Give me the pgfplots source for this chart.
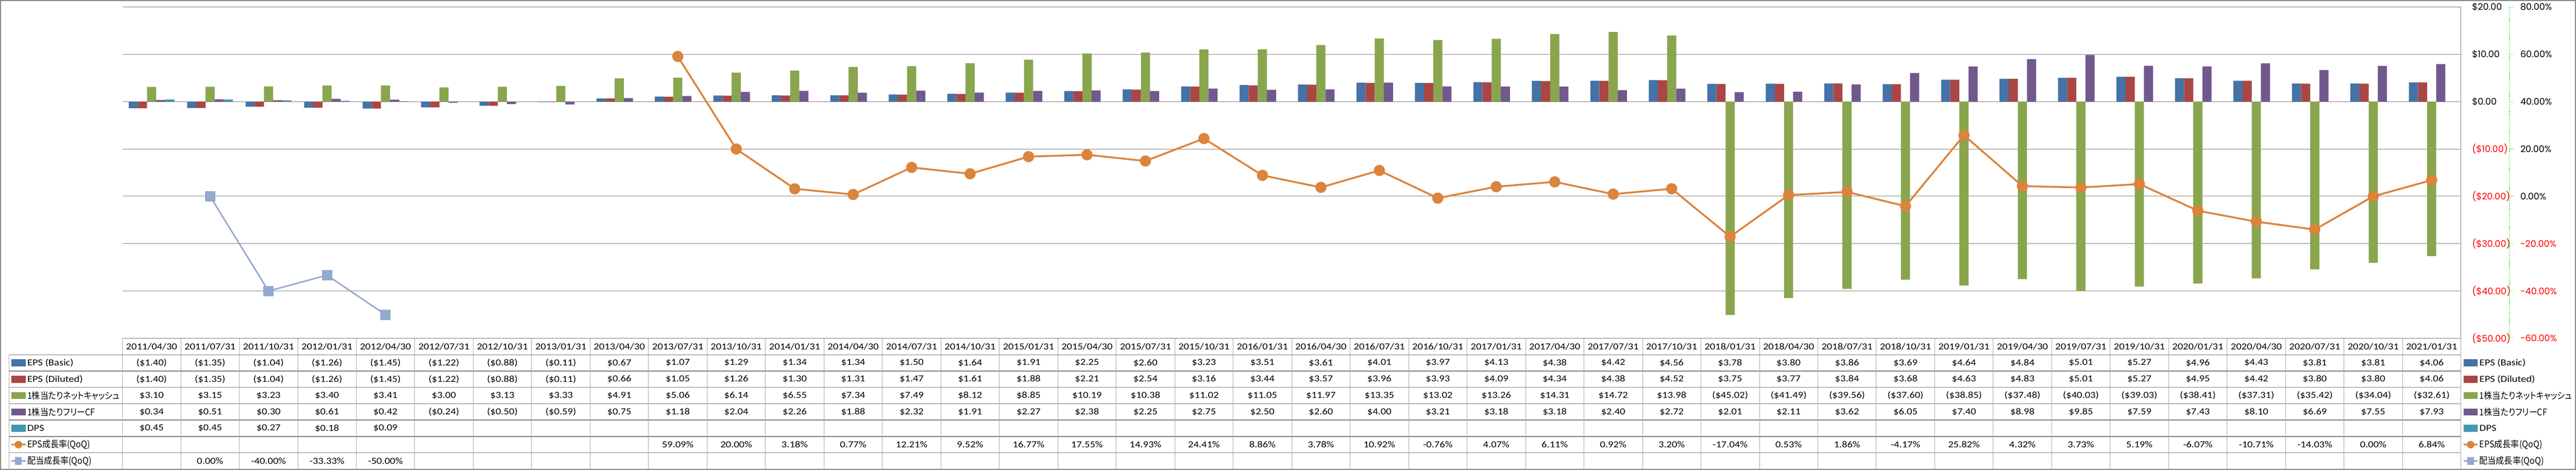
\documentclass[border=0pt]{standalone}
\usepackage{pgfplots}
\pgfplotsset{compat=1.18}
\usepackage{pgfplotstable}
\usepackage{fontspec}
\setmainfont{Carlito}[FakeStretch=1.15]
\newfontfamily\axfont{Poppins}
\newfontfamily\jp{Noto Sans CJK JP}[RawFeature=+palt, FakeStretch=0.9]

\definecolor{cBlue}{RGB}{69,114,167}
\definecolor{cRed}{RGB}{170,70,67}
\definecolor{cGreen}{RGB}{137,165,78}
\definecolor{cPurple}{RGB}{113,88,143}
\definecolor{cTeal}{RGB}{65,152,175}
\definecolor{cOrange}{RGB}{219,132,61}
\definecolor{cLBlue}{RGB}{147,169,207}
\definecolor{gridgray}{RGB}{134,134,134}
\definecolor{tabgray}{RGB}{128,128,128}
\definecolor{axgreen}{RGB}{0,230,0}

\newcommand\tabfont{\fontsize{6.3pt}{7pt}\selectfont}
\newcommand\axlab{\axfont\fontsize{6.2pt}{7pt}\selectfont}

% ($1.40) for negatives, $1.40 otherwise
\def\fmtdaux#1#2\relax{\ifx-#1(\$#2)\else\$#1#2\fi}
\newcommand\fmtd[1]{\edef\tmpv{#1}\expandafter\fmtdaux\tmpv\relax}
\newcommand\fmtp[1]{#1\%}

\pgfplotstableread{
i date eb ed nc fcf dps epsg divg
0 2011/04/30 -1.40 -1.40 3.10 0.34 0.45 nan nan
1 2011/07/31 -1.35 -1.35 3.15 0.51 0.45 nan 0.00
2 2011/10/31 -1.04 -1.04 3.23 0.30 0.27 nan -40.00
3 2012/01/31 -1.26 -1.26 3.40 0.61 0.18 nan -33.33
4 2012/04/30 -1.45 -1.45 3.41 0.42 0.09 nan -50.00
5 2012/07/31 -1.22 -1.22 3.00 -0.24 nan nan nan
6 2012/10/31 -0.88 -0.88 3.13 -0.50 nan nan nan
7 2013/01/31 -0.11 -0.11 3.33 -0.59 nan nan nan
8 2013/04/30 0.67 0.66 4.91 0.75 nan nan nan
9 2013/07/31 1.07 1.05 5.06 1.18 nan 59.09 nan
10 2013/10/31 1.29 1.26 6.14 2.04 nan 20.00 nan
11 2014/01/31 1.34 1.30 6.55 2.26 nan 3.18 nan
12 2014/04/30 1.34 1.31 7.34 1.88 nan 0.77 nan
13 2014/07/31 1.50 1.47 7.49 2.32 nan 12.21 nan
14 2014/10/31 1.64 1.61 8.12 1.91 nan 9.52 nan
15 2015/01/31 1.91 1.88 8.85 2.27 nan 16.77 nan
16 2015/04/30 2.25 2.21 10.19 2.38 nan 17.55 nan
17 2015/07/31 2.60 2.54 10.38 2.25 nan 14.93 nan
18 2015/10/31 3.23 3.16 11.02 2.75 nan 24.41 nan
19 2016/01/31 3.51 3.44 11.05 2.50 nan 8.86 nan
20 2016/04/30 3.61 3.57 11.97 2.60 nan 3.78 nan
21 2016/07/31 4.01 3.96 13.35 4.00 nan 10.92 nan
22 2016/10/31 3.97 3.93 13.02 3.21 nan -0.76 nan
23 2017/01/31 4.13 4.09 13.26 3.18 nan 4.07 nan
24 2017/04/30 4.38 4.34 14.31 3.18 nan 6.11 nan
25 2017/07/31 4.42 4.38 14.72 2.40 nan 0.92 nan
26 2017/10/31 4.56 4.52 13.98 2.72 nan 3.20 nan
27 2018/01/31 3.78 3.75 -45.02 2.01 nan -17.04 nan
28 2018/04/30 3.80 3.77 -41.49 2.11 nan 0.53 nan
29 2018/07/31 3.86 3.84 -39.56 3.62 nan 1.86 nan
30 2018/10/31 3.69 3.68 -37.60 6.05 nan -4.17 nan
31 2019/01/31 4.64 4.63 -38.85 7.40 nan 25.82 nan
32 2019/04/30 4.84 4.83 -37.48 8.98 nan 4.32 nan
33 2019/07/31 5.01 5.01 -40.03 9.85 nan 3.73 nan
34 2019/10/31 5.27 5.27 -39.03 7.59 nan 5.19 nan
35 2020/01/31 4.96 4.95 -38.41 7.43 nan -6.07 nan
36 2020/04/30 4.43 4.42 -37.31 8.10 nan -10.71 nan
37 2020/07/31 3.81 3.80 -35.42 6.69 nan -14.03 nan
38 2020/10/31 3.81 3.80 -34.04 7.55 nan 0.00 nan
39 2021/01/31 4.06 4.06 -32.61 7.93 nan 6.84 nan
}\data

% legend entry, drawn both in the table's first column and at the right
\newcommand\legrow[4]{%
  \pgfmathsetmacro\yy{-(#1+0.5)*11.1875}
  \foreach \xx in {-76,1602.25}{
    \ifx b#3
      \fill[#2] (\xx pt,\yy pt-2.4pt) rectangle ++(9.75pt,4.8pt);
    \else
      \draw[#2, line width=1.2pt] (\xx pt,\yy pt) -- ++(9.75pt,0);
      \ifx c#3
        \fill[#2] (\xx pt+4.875pt,\yy pt) circle (2.6pt);
      \else
        \fill[#2] (\xx pt+2.6pt,\yy pt-2.6pt) rectangle ++(4.55pt,5.2pt);
      \fi
    \fi
    \node[anchor=west, inner sep=0pt, font=\tabfont] at (\xx pt+10.75pt,\yy pt) {#4};
  }}

\begin{document}
\begin{tikzpicture}
\useasboundingbox (-83.75pt,-90pt) rectangle (1679.25pt,231.5pt);
\draw[gridgray, line width=0.75pt] (-83.4pt,-89.6pt) rectangle (1678.9pt,231.1pt);

% bars, left scale in dollars (labels on the right)
\begin{axis}[
  at={(0,0)}, anchor=south west, scale only axis,
  width=1600.5pt, height=226.75pt,
  xmin=-0.5, xmax=39.5, ymin=-50, ymax=20,
  ybar=0pt, bar width=6.25pt,
  axis y line*=right, axis x line*=bottom,
  axis line style={draw=gridgray, line width=0.4pt},
  ymajorgrids, grid style={gridgray, line width=0.35pt},
  major tick length=0pt,
  ytick={-50,-40,...,20},
  yticklabels={\color{red}(\$50.00),\color{red}(\$40.00),\color{red}(\$30.00),\color{red}(\$20.00),\color{red}(\$10.00),\$0.00,\$10.00,\$20.00},
  yticklabel style={anchor=west, inner sep=0pt, xshift=7.5pt, font=\axlab},
  xtick={0,...,39},
  xticklabels from table={\data}{date},
  xticklabel style={anchor=center, inner sep=0pt, yshift=-5.6pt, font=\tabfont},
]
\addplot[fill=cBlue, draw=none] table[x=i, y=eb] {\data};
\addplot[fill=cRed, draw=none] table[x=i, y=ed] {\data};
\addplot[fill=cGreen, draw=none] table[x=i, y=nc] {\data};
\addplot[fill=cPurple, draw=none] table[x=i, y=fcf] {\data};
\addplot[fill=cTeal, draw=none] table[x=i, y=dps] {\data};
\end{axis}

% growth rates, right scale in percent
\begin{axis}[
  at={(0,0)}, anchor=south west, scale only axis,
  width=1600.5pt, height=226.75pt,
  xmin=-0.5, xmax=39.5, ymin=-60, ymax=80,
  axis x line=none, axis y line*=right, axis y line shift=33.25pt,
  y axis line style={axgreen, densely dotted, line width=0.45pt},
  ytick style={axgreen, densely dotted, line width=0.45pt},
  tick align=outside, major tick length=2.5pt,
  ytick={-60,-40,...,80},
  yticklabels={\color{red}-60.00\%,\color{red}-40.00\%,\color{red}-20.00\%,0.00\%,20.00\%,40.00\%,60.00\%,80.00\%},
  yticklabel style={anchor=west, inner sep=0pt, xshift=4.75pt, font=\axlab},
]
\addplot[cOrange, line width=1.25pt, mark=*, mark size=3.2pt,
  mark options={fill=cOrange, draw=cOrange}] table[x=i, y=epsg] {\data};
\addplot[cLBlue, line width=1pt, mark=square*, mark size=3pt,
  mark options={fill=cLBlue, draw=cLBlue}] table[x=i, y=divg] {\data};
\end{axis}

% data table under the plot
\begin{axis}[
  at={(0,0)}, anchor=north west, scale only axis,
  width=1600.5pt, height=89.5pt,
  xmin=-0.5, xmax=39.5, ymin=0, ymax=8,
  hide axis, clip=false,
  point meta=explicit symbolic,
  every node near coord/.style={anchor=center, inner sep=0pt, font=\tabfont, text=black},
]
\addplot[draw=none, nodes near coords={\fmtd{\pgfplotspointmeta}}] table[x=i, y expr=6.5, meta=eb] {\data};
\addplot[draw=none, nodes near coords={\fmtd{\pgfplotspointmeta}}] table[x=i, y expr=5.5, meta=ed] {\data};
\addplot[draw=none, nodes near coords={\fmtd{\pgfplotspointmeta}}] table[x=i, y expr=4.5, meta=nc] {\data};
\addplot[draw=none, nodes near coords={\fmtd{\pgfplotspointmeta}}] table[x=i, y expr=3.5, meta=fcf] {\data};
\addplot[draw=none, nodes near coords={\fmtd{\pgfplotspointmeta}}] table[x=i, y expr={\thisrow{dps}*0+2.5}, meta=dps] {\data};
\addplot[draw=none, nodes near coords={\fmtp{\pgfplotspointmeta}}] table[x=i, y expr={\thisrow{epsg}*0+1.5}, meta=epsg] {\data};
\addplot[draw=none, nodes near coords={\fmtp{\pgfplotspointmeta}}] table[x=i, y expr={\thisrow{divg}*0+0.5}, meta=divg] {\data};
\end{axis}

% table rules
\foreach \k in {1,...,7}
  \draw[tabgray, line width=0.5pt] (-77.5pt,-\k*11.1875pt) -- (1600.5pt,-\k*11.1875pt);
\draw[tabgray, line width=0.5pt] (0,0) -- (1600.5pt,0);
\foreach \k in {0,...,40}
  \draw[gridgray!70, line width=0.3pt] (\k*40.0125pt,0) -- (\k*40.0125pt,-89.5pt);
\draw[gridgray!70, line width=0.3pt] (-77.5pt,-11.1875pt) -- (-77.5pt,-89.5pt);

\legrow{1}{cBlue}{b}{EPS (Basic)}
\legrow{2}{cRed}{b}{EPS (Diluted)}
\legrow{3}{cGreen}{b}{\jp 1株当たりネットキャッシュ}
\legrow{4}{cPurple}{b}{\jp 1株当たりフリーCF}
\legrow{5}{cTeal}{b}{DPS}
\legrow{6}{cOrange}{c}{\jp EPS成長率(QoQ)}
\legrow{7}{cLBlue}{s}{\jp 配当成長率(QoQ)}
\end{tikzpicture}
\end{document}
